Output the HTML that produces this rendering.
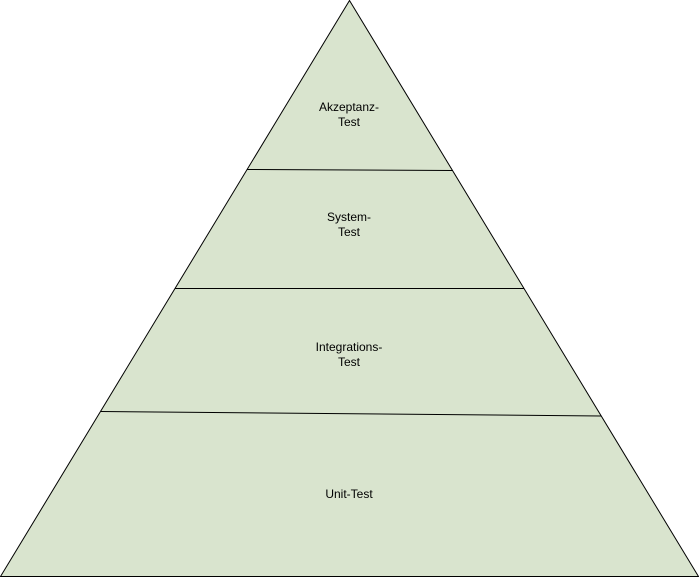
<!DOCTYPE html>
<html><head><meta charset="utf-8"><style>
html,body{margin:0;padding:0;background:#fff;width:699px;height:577px;overflow:hidden}
svg{display:block}
text{font-family:"Liberation Sans",Arial,sans-serif;font-size:12px;fill:#000}
</style></head><body>
<svg width="699" height="577" viewBox="0 0 699 577" xmlns="http://www.w3.org/2000/svg">
<polygon points="349.5,0.5 698.5,576.5 0.5,576.5" fill="#d9e4ce" stroke="#000" stroke-width="1"/>
<line x1="247" y1="169.5" x2="453" y2="170.5" stroke="#000" stroke-width="1"/>
<line x1="175" y1="288.5" x2="524" y2="288.5" stroke="#000" stroke-width="1"/>
<line x1="101" y1="411.5" x2="601" y2="416" stroke="#000" stroke-width="1"/>
<g text-anchor="middle">
<text x="349" y="111">Akzeptanz-</text>
<text x="349" y="126">Test</text>
<text x="349" y="221">System-</text>
<text x="349" y="236">Test</text>
<text x="349" y="351">Integrations-</text>
<text x="349" y="366">Test</text>
<text x="349" y="498">Unit-Test</text>
</g>
</svg>
</body></html>
